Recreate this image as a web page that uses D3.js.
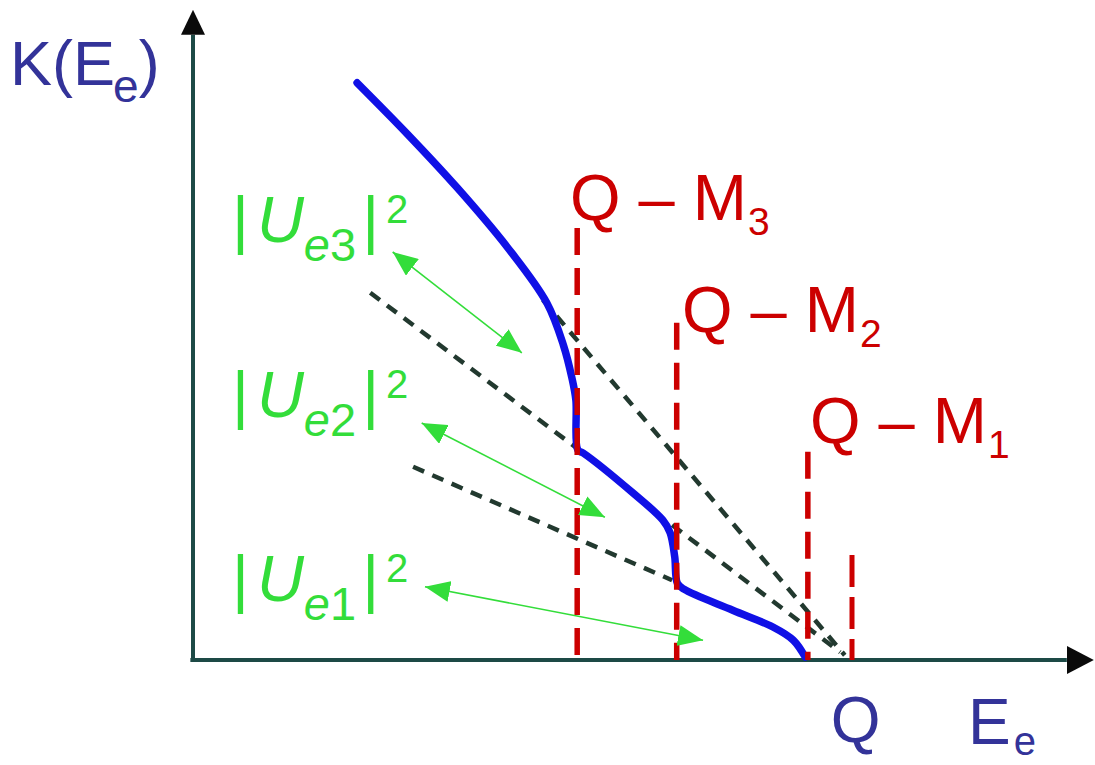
<!DOCTYPE html>
<html>
<head>
<meta charset="utf-8">
<script src="https://cdn.jsdelivr.net/npm/d3@7"></script>
<style>
  body { margin: 0; background: #fff; }
  svg { display: block; }
  text { font-family: "Liberation Sans", Arial, Helvetica, sans-serif; }
</style>
</head>
<body>
<svg id="chart" width="1095" height="765"></svg>
<script>
// Electron spectrum K(E_e) near the endpoint, energy in units where Q = 10

const Q = 10;

// kinks of the spectrum: Q − M_i
const massIndex = ["3", "2", "1"];
const thresholdE = [5.83, 7.34, 9.33];
const thresholdTopK = [7.20, 5.62, 3.47];
const endpointTopK = 1.75;

// summed spectrum (solid)
const spectrumE = [2.49, 3.25, 4.01, 4.77, 5.37, 5.62, 5.75, 5.81, 5.84, 5.92,
                   6.68, 7.13, 7.24, 7.31, 7.35, 7.45, 8.19, 8.80, 9.11, 9.29];
const spectrumK = [9.62, 8.77, 7.87, 6.88, 5.95, 5.25, 4.70, 4.33, 3.50, 3.45,
                   2.78, 2.33, 2.12, 1.72, 1.28, 1.18, 0.83, 0.55, 0.33, 0.05];

// extensions of each branch (dashed)
const branchStartE = [5.31, 2.69, 7.27, 3.34];
const branchStartK = [6.00, 6.12, 2.25, 3.22];
const branchEndE   = [9.89, 5.80, 9.82, 7.27];
const branchEndK   = [0.08, 3.55, 0.13, 1.33];

// |U_ei|^2 step arrows (from, to)
const stepFromE = [3.03, 3.47, 3.52];
const stepFromK = [6.80, 3.95, 1.22];
const stepToE   = [4.99, 6.25, 7.74];
const stepToK   = [5.12, 2.38, 0.33];

const svg = d3.select("#chart");

const x = d3.scaleLinear().domain([0, Q]).range([193, 852]);
const y = d3.scaleLinear().domain([0, 10]).range([660, 60]);

const COL_AXIS = "#1d4a46";
const COL_LABEL = "#333399";
const COL_RED = "#cc0000";
const COL_GREEN = "#33dd3a";
const COL_CURVE = "#1010e6";
const COL_DASH = "#22392f";

const defs = svg.append("defs");
defs.append("marker")
  .attr("id", "axisHeadX").attr("markerUnits", "userSpaceOnUse")
  .attr("markerWidth", 27).attr("markerHeight", 28)
  .attr("refX", 0).attr("refY", 14).attr("orient", "auto")
  .append("path").attr("d", "M0,0 L27,14 L0,28 Z").attr("fill", "#0a0a0a");
defs.append("marker")
  .attr("id", "axisHeadY").attr("markerUnits", "userSpaceOnUse")
  .attr("markerWidth", 25).attr("markerHeight", 24)
  .attr("refX", 0).attr("refY", 12).attr("orient", "auto")
  .append("path").attr("d", "M0,0 L25,12 L0,24 Z").attr("fill", "#0a0a0a");
defs.append("marker")
  .attr("id", "stepHead").attr("markerUnits", "userSpaceOnUse")
  .attr("markerWidth", 25).attr("markerHeight", 21)
  .attr("refX", 25).attr("refY", 10.5).attr("orient", "auto-start-reverse")
  .append("path").attr("d", "M0,0 L25,10.5 L0,21 Z").attr("fill", COL_GREEN);

// axes
const xAxisEnd = 13.26, yAxisEnd = 10.42;
svg.append("line")
  .attr("x1", x(-0.04)).attr("x2", x(xAxisEnd))
  .attr("y1", y(0)).attr("y2", y(0))
  .attr("stroke", COL_AXIS).attr("stroke-width", 4)
  .attr("marker-end", "url(#axisHeadX)");
svg.append("line")
  .attr("x1", x(0)).attr("x2", x(0))
  .attr("y1", y(-0.03)).attr("y2", y(yAxisEnd))
  .attr("stroke", COL_AXIS).attr("stroke-width", 4)
  .attr("marker-end", "url(#axisHeadY)");

// endpoint tick label "Q"
const xAxis = d3.axisBottom(x).tickValues([Q]).tickFormat(() => "Q")
  .tickSize(0).tickPadding(37);
const gx = svg.append("g").attr("transform", `translate(0,${y(0)})`).call(xAxis);
gx.select(".domain").remove();
gx.selectAll("text")
  .attr("font-size", 64).attr("fill", COL_LABEL)
  .attr("font-family", "'Liberation Sans', Arial, sans-serif")
  .attr("dx", "0.05em");

// axis titles
const yTitle = svg.append("text").attr("x", 10).attr("y", 85)
  .attr("font-size", 63).attr("fill", COL_LABEL);
yTitle.append("tspan").text("K(E");
yTitle.append("tspan").attr("font-size", 46).attr("dy", 17).attr("dx", -2).text("e");
yTitle.append("tspan").attr("dy", -17).text(")");

const xTitle = svg.append("text").attr("x", 968).attr("y", 744)
  .attr("font-size", 64).attr("fill", COL_LABEL);
xTitle.append("tspan").text("E");
xTitle.append("tspan").attr("font-size", 40).attr("dy", 11).attr("dx", 3).text("e");

// dashed branch extensions
svg.append("g").selectAll("line")
  .data(d3.range(branchStartE.length))
  .join("line")
  .attr("x1", i => x(branchStartE[i])).attr("y1", i => y(branchStartK[i]))
  .attr("x2", i => x(branchEndE[i])).attr("y2", i => y(branchEndK[i]))
  .attr("stroke", COL_DASH).attr("stroke-width", 4.5)
  .attr("stroke-dasharray", "12,9");

// summed spectrum
const line = d3.line()
  .x(i => x(spectrumE[i])).y(i => y(spectrumK[i]))
  .curve(d3.curveCatmullRom.alpha(0.5));
svg.append("path")
  .attr("d", line(d3.range(spectrumE.length)))
  .attr("fill", "none").attr("stroke", COL_CURVE)
  .attr("stroke-width", 7.5).attr("stroke-linecap", "round")
  .attr("stroke-linejoin", "round");

// Q − M_i thresholds
svg.append("g").selectAll("line")
  .data(d3.range(thresholdE.length))
  .join("line")
  .attr("x1", i => x(thresholdE[i])).attr("x2", i => x(thresholdE[i]))
  .attr("y1", i => y(thresholdTopK[i])).attr("y2", y(0))
  .attr("stroke", COL_RED).attr("stroke-width", 5.5)
  .attr("stroke-dasharray", "27,13");
svg.append("line")
  .attr("x1", x(Q)).attr("x2", x(Q))
  .attr("y1", y(endpointTopK)).attr("y2", y(0))
  .attr("stroke", COL_RED).attr("stroke-width", 5)
  .attr("stroke-dasharray", "32,10");

// threshold labels
const thrLabelPos = [[570, 220], [682, 332], [810, 443]];
thresholdE.forEach((e, i) => {
  const t = svg.append("text")
    .attr("x", thrLabelPos[i][0]).attr("y", thrLabelPos[i][1])
    .attr("font-size", 65).attr("fill", COL_RED);
  t.append("tspan").text("Q \u2013 M");
  t.append("tspan").attr("font-size", 39).attr("dy", 15).attr("dx", 1).text(massIndex[i]);
});

// |U_ei|^2 arrows
svg.append("g").selectAll("line")
  .data(d3.range(stepFromE.length))
  .join("line")
  .attr("x1", i => x(stepFromE[i])).attr("y1", i => y(stepFromK[i]))
  .attr("x2", i => x(stepToE[i])).attr("y2", i => y(stepToK[i]))
  .attr("stroke", COL_GREEN).attr("stroke-width", 1.6)
  .attr("marker-start", "url(#stepHead)")
  .attr("marker-end", "url(#stepHead)");

// |U_ei|^2 labels
const mixLabelBase = [242, 417, 601];
massIndex.forEach((m, i) => {
  const t = svg.append("text")
    .attr("x", 232).attr("y", mixLabelBase[i])
    .attr("font-size", 65).attr("fill", COL_GREEN);
  t.append("tspan").text("|");
  t.append("tspan").attr("dx", 8).attr("font-style", "italic").text("U");
  t.append("tspan").attr("font-size", 47).attr("dy", 19).attr("dx", 0)
    .attr("font-style", "italic").text("e");
  t.append("tspan").attr("font-size", 47).text(m);
  t.append("tspan").attr("dy", -19).attr("dx", 6).text("|");
  t.append("tspan").attr("font-size", 40).attr("dy", -19).attr("dx", 7).text("2");
});
</script>
</body>
</html>
